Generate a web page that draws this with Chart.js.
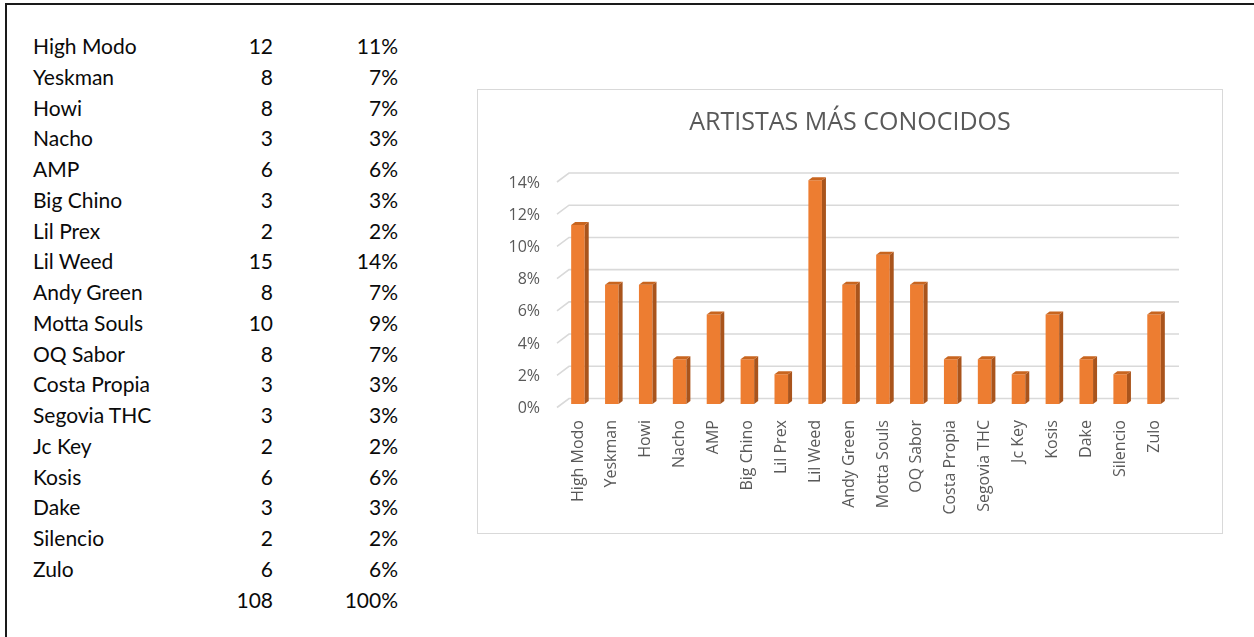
<!DOCTYPE html>
<html>
<head>
<meta charset="utf-8">
<script src="https://cdn.jsdelivr.net/npm/chart.js@4/dist/chart.umd.min.js"></script>
<style>
  html, body { margin: 0; padding: 0; background: #fff; }
  body { width: 1254px; height: 637px; position: relative; overflow: hidden; }
  #frameTop { position: absolute; left: 5px; top: 3px; width: 1249px; height: 2px; background: #1a1a1a; }
  #frameLeft { position: absolute; left: 5px; top: 3px; width: 2px; height: 634px; background: #1a1a1a; }
  #table { position: absolute; left: 0; top: 0; font-family: Lato, "Liberation Sans", sans-serif; font-size: 21px; color: #0a0a0a; }
  .row { position: absolute; height: 30px; line-height: 30px; white-space: nowrap; }
  .name { position: absolute; left: 33px; }
  .cnt { position: absolute; right: 0; }
  #chartBox { position: absolute; left: 477px; top: 89px; width: 744px; height: 443px; border: 1px solid #d9d9d9; background: #fff; }
  #chartBox canvas { position: absolute; left: 0; top: 0; }
</style>
</head>
<body>
<div id="frameTop"></div>
<div id="frameLeft"></div>
<div id="table"></div>
<div id="chartBox"><canvas id="c" width="744" height="443"></canvas></div>
<script>
const categories = ["High Modo","Yeskman","Howi","Nacho","AMP","Big Chino","Lil Prex","Lil Weed","Andy Green","Motta Souls","OQ Sabor","Costa Propia","Segovia THC","Jc Key","Kosis","Dake","Silencio","Zulo"];
const counts = [12,8,8,3,6,3,2,15,8,10,8,3,3,2,6,3,2,6];
const shares = [11.11,7.41,7.41,2.78,5.56,2.78,1.85,13.89,7.41,9.26,7.41,2.78,2.78,1.85,5.56,2.78,1.85,5.56];
const totalCount = 108;
const totalShare = "100%";
const yTicks = [0,2,4,6,8,10,12,14];
const chartTitle = "ARTISTAS MÁS CONOCIDOS";

// ---- table ----
const table = document.getElementById('table');
function addCell(top, width, cls, text) {
  const r = document.createElement('div');
  r.className = 'row'; r.style.top = top + 'px'; r.style.left = '0px'; r.style.width = width + 'px';
  const s = document.createElement('span');
  s.className = cls; s.textContent = text;
  r.appendChild(s);
  table.appendChild(r);
}
function addRow(i, name, cnt, pct) {
  const top = 31 + i * 30.76;
  addCell(top, 300, 'name', name);
  addCell(top, 273, 'cnt', cnt);
  addCell(top, 398, 'cnt', pct);
}
categories.forEach((n, i) => addRow(i, n, String(counts[i]), Math.round(shares[i]) + '%'));
addRow(categories.length, '', String(totalCount), totalShare);

// ---- chart ----
const FRONT = '#ED7D31', SIDE = '#A9541C', TOPC = '#C8651F', GRID = '#d9d9d9';
const DX = 4, DY = 3;

const gridPlugin = {
  id: 'grid3d',
  beforeDatasetsDraw(chart) {
    const ctx = chart.ctx, ys = chart.scales.y, a = chart.chartArea;
    ctx.save();
    ctx.strokeStyle = GRID; ctx.lineWidth = 1.6;
    yTicks.forEach(v => {
      const y = ys.getPixelForValue(v);
      ctx.beginPath();
      ctx.moveTo(a.left - 4, y + 3.5);
      ctx.lineTo(a.left + 8, y - 5.5);
      ctx.lineTo(a.right + 8, y - 5.5);
      ctx.stroke();
    });
    ctx.restore();
  },
  afterDatasetsDraw(chart) {
    const ctx = chart.ctx;
    const meta = chart.getDatasetMeta(0);
    ctx.save();
    meta.data.forEach(bar => {
      const p = bar.getProps(['x','y','base','width'], true);
      const l = p.x - p.width / 2, r = p.x + p.width / 2, t = p.y, b = p.base;
      ctx.fillStyle = SIDE;
      ctx.beginPath();
      ctx.moveTo(r, t); ctx.lineTo(r + DX, t - DY); ctx.lineTo(r + DX, b - DY); ctx.lineTo(r, b); ctx.closePath(); ctx.fill();
      ctx.fillStyle = TOPC;
      ctx.beginPath();
      ctx.moveTo(l, t); ctx.lineTo(l + DX, t - DY); ctx.lineTo(r + DX, t - DY); ctx.lineTo(r, t); ctx.closePath(); ctx.fill();
    });
    ctx.restore();
  }
};

new Chart(document.getElementById('c'), {
  type: 'bar',
  data: {
    labels: categories,
    datasets: [{ data: shares, backgroundColor: FRONT, borderWidth: 0, barPercentage: 0.4, categoryPercentage: 1 }]
  },
  options: {
    responsive: false,
    animation: false,
    events: [],
    layout: { padding: { left: 0, right: 0, top: 0, bottom: 0 } },
    plugins: {
      legend: { display: false },
      tooltip: { enabled: false },
      title: {
        display: true, text: chartTitle, color: '#595959',
        font: { family: 'Open Sans', size: 25, weight: 'normal', lineHeight: 1.2 },
        padding: { top: 18, bottom: 40.5 }
      }
    },
    scales: {
      x: {
        grid: { display: false, drawTicks: false },
        border: { display: false },
        ticks: { color: '#595959', font: { family: 'Open Sans', size: 16 }, minRotation: 90, maxRotation: 90, padding: 16, autoSkip: false },
        afterFit(s) { s.height = 129; }
      },
      y: {
        min: 0, max: 14,
        grid: { display: false, drawTicks: false },
        border: { display: false },
        ticks: { stepSize: 2, color: '#595959', font: { family: 'Open Sans', size: 16 }, padding: 21, labelOffset: 4.5,
                 callback: v => v + '%' },
        afterFit(s) { s.width = 83; }
      },
      yRight: {
        position: 'right', display: true,
        grid: { display: false, drawTicks: false },
        border: { display: false },
        ticks: { display: false },
        afterFit(s) { s.width = 51; }
      }
    }
  },
  plugins: [gridPlugin]
});
</script>
</body>
</html>
